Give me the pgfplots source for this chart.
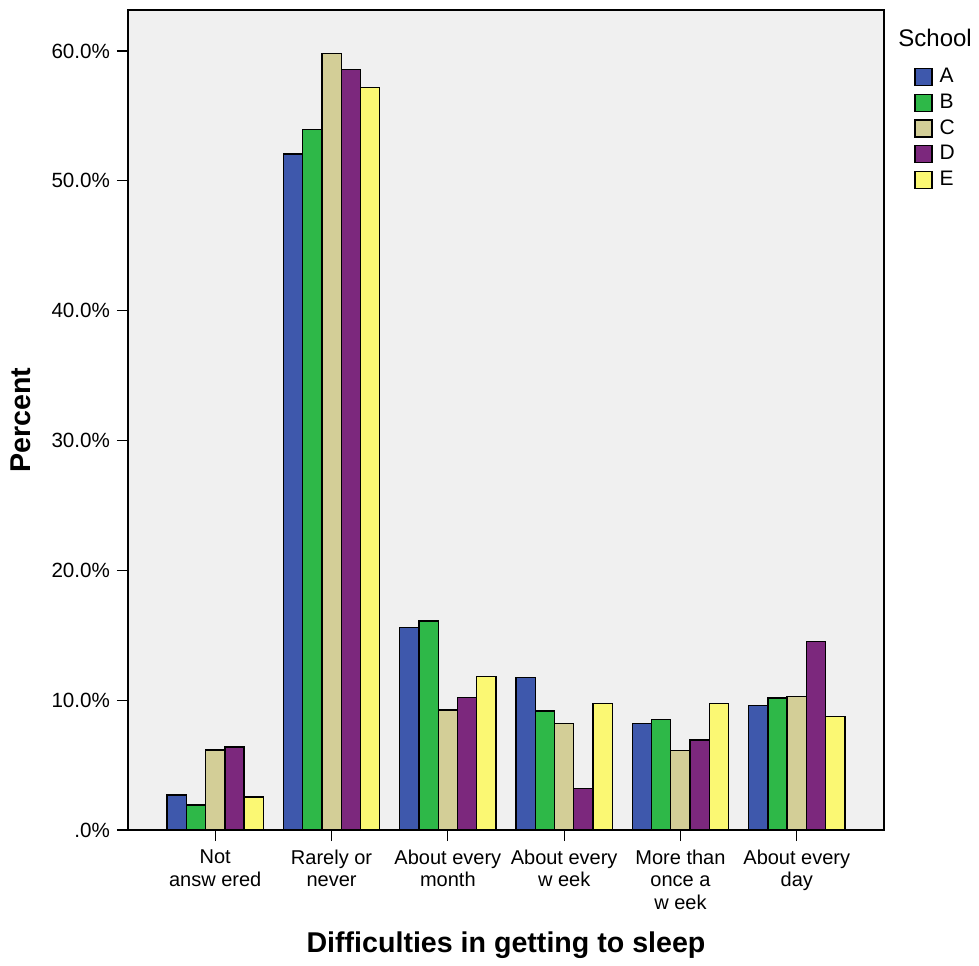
\documentclass[border=0pt]{standalone}
\usepackage{pgfplots}
\pgfplotsset{compat=1.18}
\usepackage{fontspec}
\setmainfont{Liberation Sans}
\definecolor{cA}{RGB}{62,88,172}
\definecolor{cB}{RGB}{46,184,72}
\definecolor{cC}{RGB}{211,206,151}
\definecolor{cD}{RGB}{124,40,125}
\definecolor{cE}{RGB}{251,248,115}
\definecolor{bgc}{RGB}{240,240,240}
\begin{document}
\begin{tikzpicture}
\begin{axis}[
  name=ax,
  scale only axis,
  width=378pt, height=410pt,
  xmin=-0.75, xmax=5.75,
  ymin=0, ymax=63.16,
  axis background/.style={fill=bgc},
  axis line style={black, line width=0.6pt},
  tick align=outside,
  major tick length=5.5pt,
  tick style={black, line width=0.6pt},
  xtick pos=lower, ytick pos=left,
  xtick={0,1,2,3,4,5},
  xticklabels={{Not\\answ ered},{Rarely or\\never},{About every\\month},{About every\\w eek},{More than\\once a\\w eek},{About every\\day}},
  xticklabel style={align=center, font=\fontsize{10}{11.2}\selectfont, yshift=-1pt},
  ytick={0,10,20,30,40,50,60},
  yticklabels={.0\%,10.0\%,20.0\%,30.0\%,40.0\%,50.0\%,60.0\%},
  yticklabel style={font=\fontsize{10.3}{12}\selectfont},
  /pgf/number format/assume math mode=true,
  xlabel={Difficulties in getting to sleep},
  xlabel style={font=\fontsize{14.3}{16}\selectfont\bfseries, at={(axis description cs:0.5,0)}, anchor=north, yshift=-47.5pt},
  ylabel={Percent},
  ylabel style={font=\fontsize{14.3}{16}\selectfont\bfseries, at={(axis description cs:-0.1415,0.5)}, anchor=center},
  ybar,
  bar width=0.1657,
  every axis plot/.append style={draw=black, line width=0.65pt},
  clip=false,
  legend cell align=left,
  legend style={at={(axis description cs:1,1)}, anchor=north west, xshift=15pt, yshift=-27pt, draw=none, fill=none, font=\fontsize{10.5}{12}\selectfont, row sep=0.1pt, column sep=1.5pt, inner sep=0pt},
  legend image code/.code={\draw[#1, draw=black, line width=0.65pt] (0pt,-4.25pt) rectangle (8.5pt,4.25pt);},
]
\addplot[fill=cA, bar shift=-0.3314] coordinates {(0,2.70) (1,52.07) (2,15.58) (3,11.76) (4,8.19) (5,9.58)};
\addplot[fill=cB, bar shift=-0.1657] coordinates {(0,1.93) (1,53.97) (2,16.10) (3,9.17) (4,8.50) (5,10.17)};
\addplot[fill=cC, bar shift=0] coordinates {(0,6.16) (1,59.80) (2,9.24) (3,8.22) (4,6.14) (5,10.27)};
\addplot[fill=cD, bar shift=0.1657] coordinates {(0,6.39) (1,58.60) (2,10.19) (3,3.18) (4,6.93) (5,14.50)};
\addplot[fill=cE, bar shift=0.3314] coordinates {(0,2.54) (1,57.20) (2,11.84) (3,9.76) (4,9.76) (5,8.76)};
\legend{A,B,C,D,E}
\node[anchor=west, inner sep=0pt, font=\fontsize{12}{14}\selectfont] at (rel axis cs:1,1) [xshift=7pt, yshift=-14pt] {School};
\end{axis}
\pgfresetboundingbox
\path[use as bounding box] ([shift={(-64pt,-67.5pt)}]ax.south west) rectangle ([shift={(47.5pt,5pt)}]ax.north east);
\end{tikzpicture}
\end{document}
